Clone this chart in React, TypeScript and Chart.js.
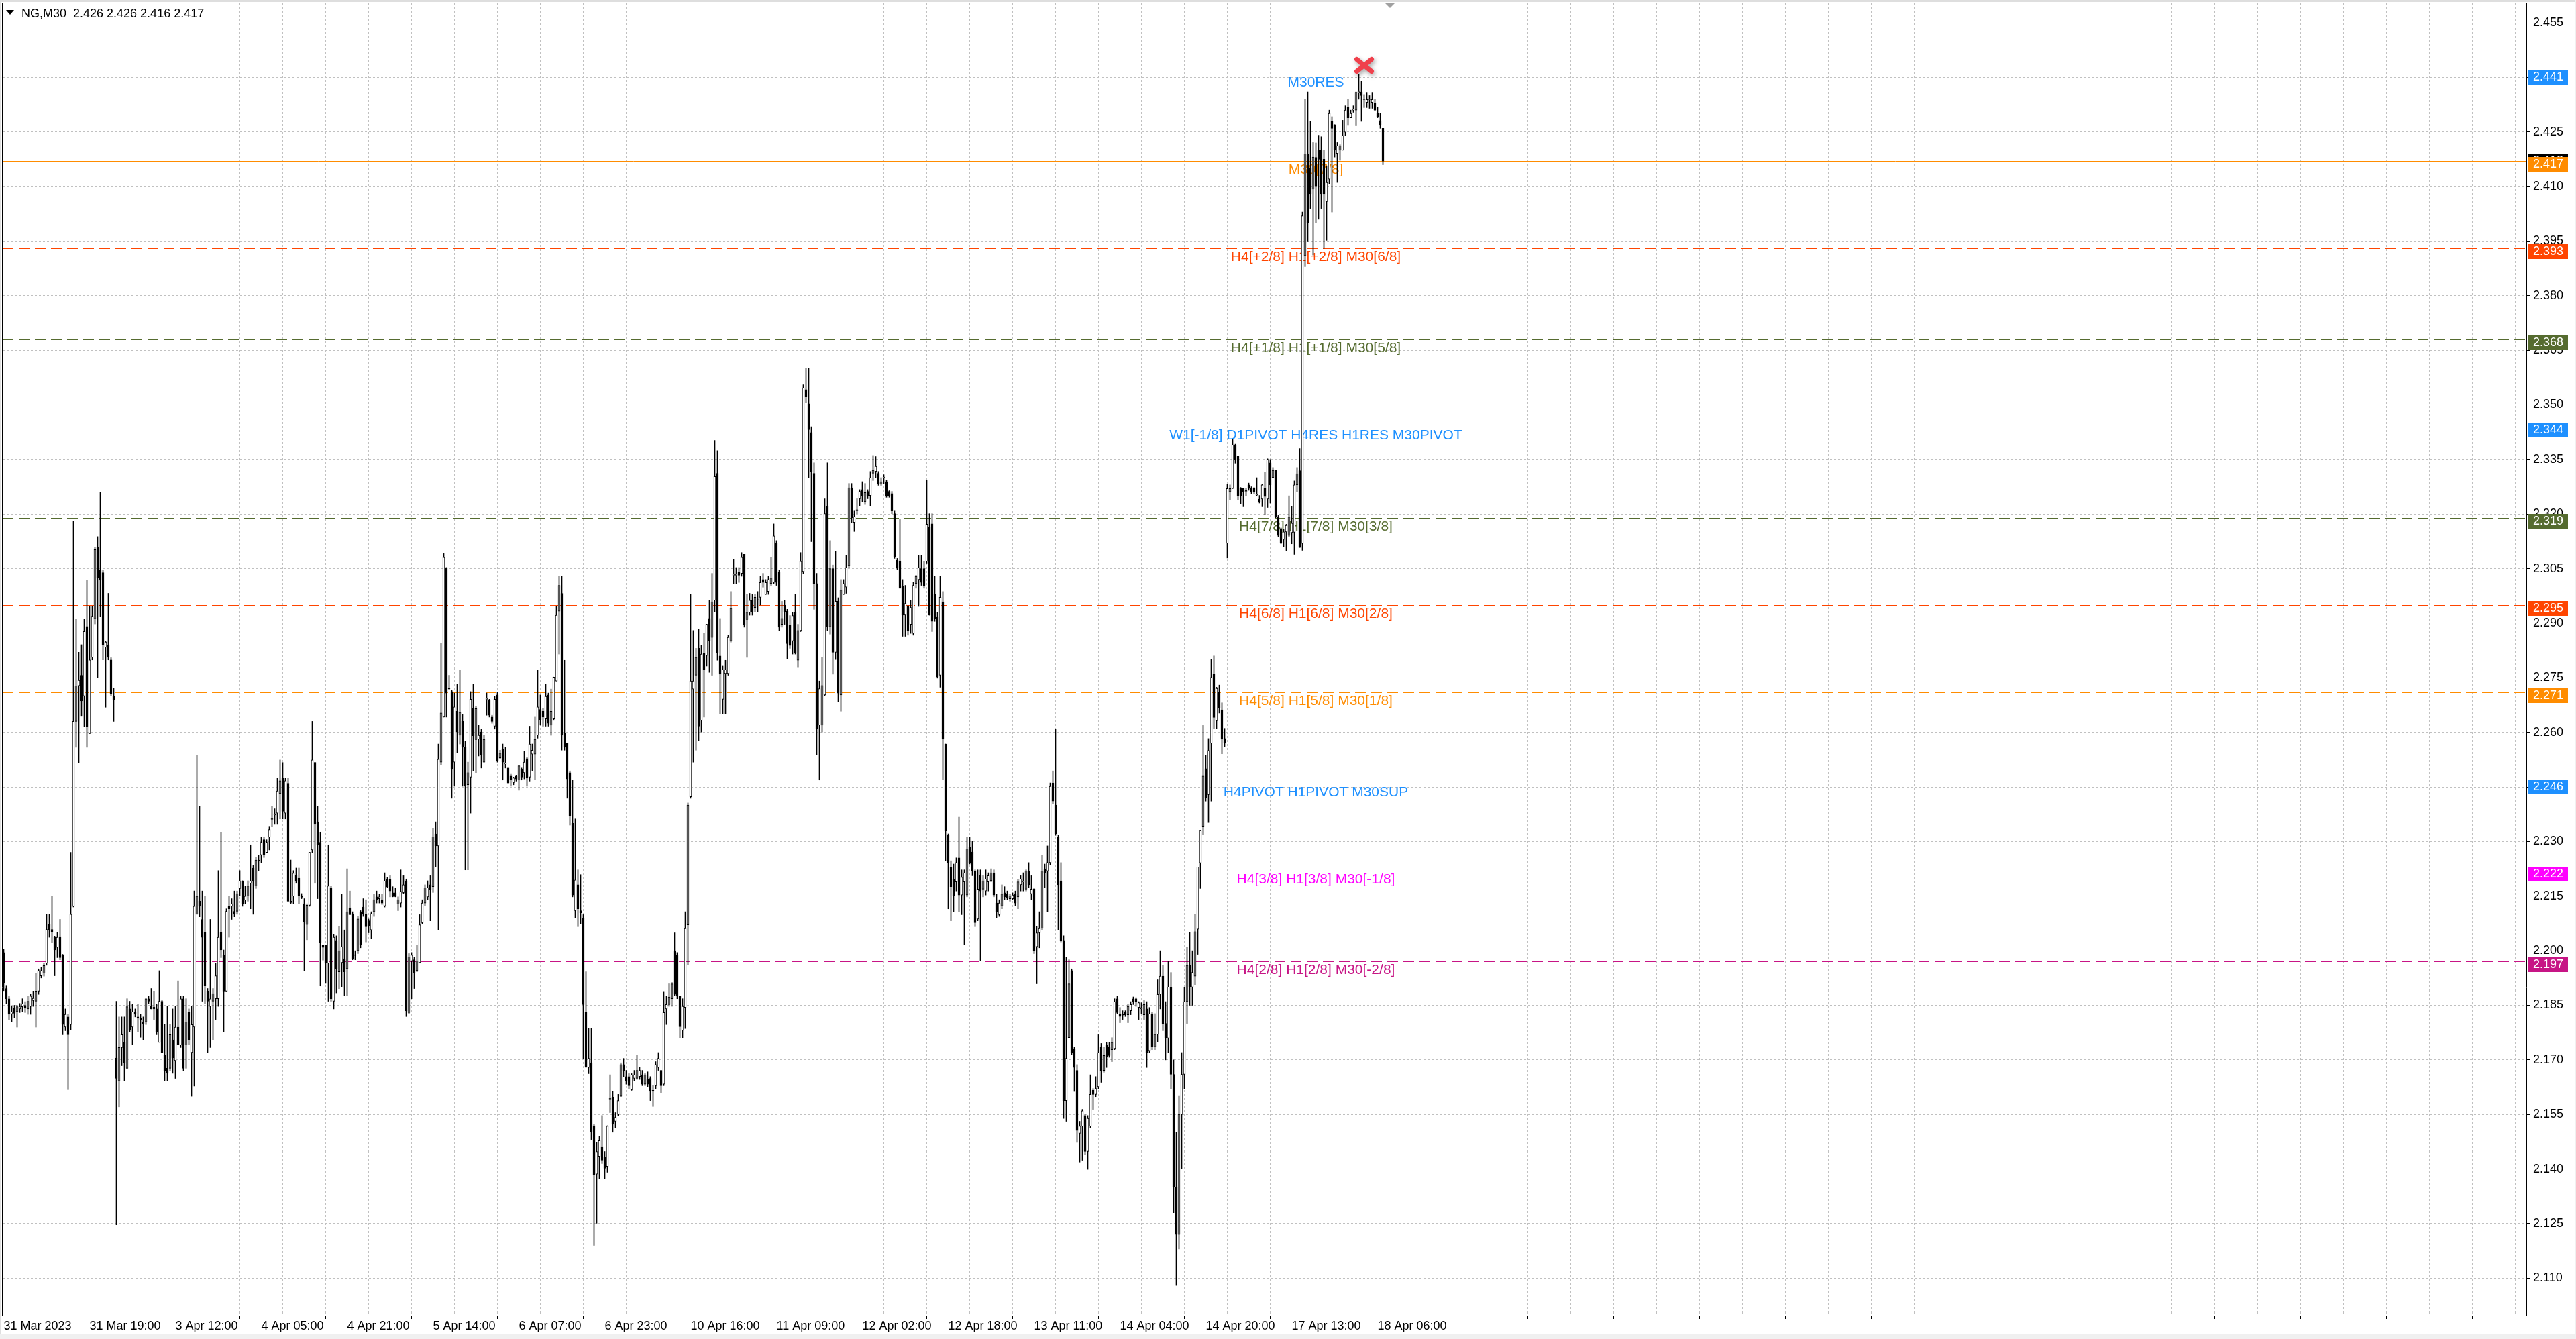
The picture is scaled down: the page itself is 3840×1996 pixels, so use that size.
import React, { useEffect, useRef } from 'react';
import { Chart, registerables } from 'chart.js';

Chart.register(...registerables);

// ---- instrument / timeframe ----
const symbolTitle = 'NG,M30';

// ---- time axis: one label every 32 bars ----
const timeLabels = [
  '31 Mar 2023', '31 Mar 19:00', '3 Apr 12:00', '4 Apr 05:00', '4 Apr 21:00', '5 Apr 14:00',
  '6 Apr 07:00', '6 Apr 23:00', '10 Apr 16:00', '11 Apr 09:00', '12 Apr 02:00', '12 Apr 18:00',
  '13 Apr 11:00', '14 Apr 04:00', '14 Apr 20:00', '17 Apr 13:00', '18 Apr 06:00',
];
const barsPerLabel = 32;
const barsPerGrid = 16;

// ---- price axis ticks ----
const priceTicks = [
  2.110, 2.125, 2.140, 2.155, 2.170, 2.185, 2.200, 2.215, 2.230, 2.245, 2.260, 2.275,
  2.290, 2.305, 2.320, 2.335, 2.350, 2.365, 2.380, 2.395, 2.410, 2.425, 2.440, 2.455,
];

// ---- M30 candles ----
const opens = [
  2.1995, 2.1896, 2.1868, 2.1826, 2.1842, 2.1832, 2.1840, 2.1846, 2.1850, 2.1840,
  2.1847, 2.1863, 2.1861, 2.1889, 2.1931, 2.1938, 2.1966, 2.2072, 2.2058, 2.2037,
  2.2009, 2.2037, 2.1988, 2.1790, 2.1818, 2.1797, 2.2122, 2.2630, 2.2728, 2.2757,
  2.2700, 2.2891, 2.2597, 2.2806, 2.2912, 2.3109, 2.3046, 2.3039, 2.2834, 2.2841,
  2.2799, 2.2700, 2.1705, 2.1642, 2.1734, 2.1748, 2.1677, 2.1840, 2.1790, 2.1832,
  2.1818, 2.1814, 2.1804, 2.1804, 2.1868, 2.1847, 2.1840, 2.1840, 2.1748, 2.1861,
  2.1712, 2.1677, 2.1677, 2.1755, 2.1698, 2.1790, 2.1741, 2.1868, 2.1741, 2.1832,
  2.1720, 2.1790, 2.2100, 2.2136, 2.2086, 2.2051, 2.1889, 2.1847, 2.1861, 2.1868,
  2.1868, 2.2051, 2.1988, 2.1889, 2.2122, 2.2122, 2.2108, 2.2108, 2.2171, 2.2192,
  2.2139, 2.2150, 2.2185, 2.2227, 2.2178, 2.2249, 2.2263, 2.2305, 2.2270, 2.2312,
  2.2361, 2.2373, 2.2378, 2.2432, 2.2474, 2.2378, 2.2460, 2.2136, 2.2150, 2.2206,
  2.2199, 2.2150, 2.2129, 2.2072, 2.2125, 2.2277, 2.2517, 2.2354, 2.2298, 2.2016,
  2.2016, 2.1966, 2.2171, 2.1861, 2.2028, 2.1942, 2.1967, 2.1978, 2.1950, 2.2118,
  2.2099, 2.1987, 2.2000, 2.2107, 2.2120, 2.2099, 2.2082, 2.2057, 2.2107, 2.2148,
  2.2143, 2.2140, 2.2123, 2.2197, 2.2197, 2.2159, 2.2159, 2.2128, 2.2131, 2.2160,
  2.2192, 2.1830, 2.1972, 2.1975, 2.1945, 2.1967, 2.2077, 2.2131, 2.2148, 2.2181,
  2.2176, 2.2321, 2.2288, 2.2518, 2.2642, 2.3053, 2.2721, 2.2712, 2.2518, 2.2658,
  2.2592, 2.2630, 2.2559, 2.2456, 2.2477, 2.2666, 2.2580, 2.2581, 2.2601, 2.2518,
  2.2691, 2.2688, 2.2642, 2.2617, 2.2703, 2.2530, 2.2554, 2.2513, 2.2502, 2.2480,
  2.2462, 2.2479, 2.2469, 2.2498, 2.2489, 2.2528, 2.2477, 2.2540, 2.2540, 2.2592,
  2.2663, 2.2658, 2.2637, 2.2703, 2.2620, 2.2637, 2.2741, 2.2933, 2.2982, 2.2597,
  2.2571, 2.2489, 2.2350, 2.2110, 2.2181, 2.2110, 2.2090, 2.1830, 2.1679, 2.1692,
  2.1519, 2.1386, 2.1435, 2.1460, 2.1432, 2.1407, 2.1592, 2.1597, 2.1531, 2.1550,
  2.1600, 2.1687, 2.1654, 2.1654, 2.1618, 2.1649, 2.1649, 2.1654, 2.1659, 2.1633,
  2.1646, 2.1649, 2.1616, 2.1629, 2.1679, 2.1671, 2.1633, 2.1840, 2.1852, 2.1868,
  2.2000, 2.1988, 2.1876, 2.1781, 2.1844, 2.2071, 2.2423, 2.2719, 2.2757, 2.2831,
  2.2633, 2.2818, 2.2811, 2.2913, 2.2861, 2.2963, 2.3312, 2.2810, 2.2691, 2.2762,
  2.2762, 2.2851, 2.3032, 2.3032, 2.3040, 2.3037, 2.3089, 2.2910, 2.2930, 2.2963,
  2.2943, 2.2963, 2.2971, 2.3020, 2.2979, 2.2987, 2.3009, 2.3012, 2.3119, 2.3040,
  2.2897, 2.2949, 2.2933, 2.2894, 2.2851, 2.2930, 2.2798, 2.2880, 2.3042, 2.3542,
  2.3503, 2.3424, 2.3312, 2.3009, 2.2620, 2.2620, 2.2703, 2.3220, 2.2890, 2.3050,
  2.2820, 2.2960, 2.2703, 2.2979, 2.2999, 2.3058, 2.3272, 2.3177, 2.3210, 2.3242,
  2.3267, 2.3234, 2.3262, 2.3251, 2.3312, 2.3317, 2.3312, 2.3282, 2.3300, 2.3289,
  2.3262, 2.3256, 2.3201, 2.3073, 2.3070, 2.3002, 2.2922, 2.2946, 2.2897, 2.2872,
  2.3009, 2.3020, 2.3050, 2.3050, 2.3070, 2.3163, 2.3173, 2.2979, 2.2918, 2.2757,
  2.2959, 2.2568, 2.2317, 2.2230, 2.2197, 2.2189, 2.2255, 2.2153, 2.2189, 2.2153,
  2.2285, 2.2271, 2.2219, 2.2087, 2.2206, 2.2169, 2.2164, 2.2189, 2.2192, 2.2214,
  2.2131, 2.2099, 2.2123, 2.2159, 2.2156, 2.2143, 2.2143, 2.2156, 2.2148, 2.2181,
  2.2189, 2.2169, 2.2219, 2.2156, 2.2169, 2.2011, 2.2049, 2.2061, 2.2225, 2.2219,
  2.2242, 2.2461, 2.2400, 2.2313, 2.2192, 2.2028, 2.1588, 2.1761, 2.1945, 2.1731,
  2.1671, 2.1498, 2.1518, 2.1547, 2.1448, 2.1518, 2.1616, 2.1605, 2.1626, 2.1736,
  2.1671, 2.1741, 2.1736, 2.1728, 2.1731, 2.1868, 2.1827, 2.1824, 2.1830, 2.1824,
  2.1835, 2.1868, 2.1868, 2.1844, 2.1840, 2.1824, 2.1840, 2.1725, 2.1827, 2.1736,
  2.1770, 2.1880, 2.1930, 2.1800, 2.1760, 2.1900, 2.1660, 2.1350, 2.1220, 2.1550,
  2.1660, 2.1860, 2.1960, 2.1900, 2.1930, 2.2059, 2.2241, 2.2340, 2.2500, 2.2429,
  2.2570, 2.2760, 2.2632, 2.2711, 2.2662, 2.2583, 2.3120, 2.3261, 2.3270, 2.3390,
  2.3360, 2.3270, 2.3270, 2.3260, 2.3280, 2.3270, 2.3270, 2.3252, 2.3241, 2.3241,
  2.3270, 2.3241, 2.3341, 2.3300, 2.3321, 2.3192, 2.3160, 2.3130, 2.3151, 2.3141,
  2.3149, 2.3150, 2.3280, 2.3319, 2.3119, 2.3910, 2.4190, 2.4150, 2.4093, 2.4180,
  2.4200, 2.4200, 2.4175, 2.4059, 2.4120, 2.4280, 2.4270, 2.4191, 2.4200, 2.4200,
  2.4249, 2.4319, 2.4289, 2.4310, 2.4310, 2.4359, 2.4360, 2.4339, 2.4331, 2.4339,
  2.4331, 2.4330, 2.4301, 2.4281, 2.4260,
];

const highs = [
  2.2005, 2.1903, 2.1875, 2.1847, 2.1850, 2.1850, 2.1855, 2.1868, 2.1860, 2.1875,
  2.1880, 2.1889, 2.1938, 2.1950, 2.1955, 2.1965, 2.2100, 2.2100, 2.2150, 2.2040,
  2.2051, 2.2086, 2.1990, 2.1840, 2.1825, 2.2270, 2.3180, 2.2912, 2.2820, 2.2841,
  2.2912, 2.3018, 2.2947, 2.2947, 2.3109, 2.3138, 2.3260, 2.3046, 2.2850, 2.2982,
  2.2805, 2.2721, 2.1861, 2.1818, 2.1818, 2.1818, 2.1868, 2.1861, 2.1854, 2.1840,
  2.1854, 2.1825, 2.1818, 2.1868, 2.1875, 2.1896, 2.1889, 2.1854, 2.1945, 2.1865,
  2.1797, 2.1847, 2.1797, 2.1840, 2.1847, 2.1917, 2.1875, 2.1875, 2.1868, 2.1840,
  2.1847, 2.2164, 2.2538, 2.2397, 2.2164, 2.2150, 2.1896, 2.2086, 2.1896, 2.1966,
  2.2220, 2.2326, 2.2002, 2.2115, 2.2150, 2.2143, 2.2164, 2.2164, 2.2220, 2.2192,
  2.2178, 2.2192, 2.2291, 2.2234, 2.2256, 2.2263, 2.2312, 2.2312, 2.2305, 2.2340,
  2.2397, 2.2390, 2.2474, 2.2524, 2.2517, 2.2474, 2.2474, 2.2249, 2.2220, 2.2227,
  2.2227, 2.2157, 2.2143, 2.2129, 2.2270, 2.2630, 2.2517, 2.2397, 2.2326, 2.2016,
  2.2016, 2.2291, 2.2178, 2.2045, 2.2041, 2.2066, 2.2156, 2.2057, 2.2225, 2.2164,
  2.2107, 2.2000, 2.2094, 2.2110, 2.2143, 2.2140, 2.2087, 2.2107, 2.2156, 2.2164,
  2.2156, 2.2156, 2.2214, 2.2201, 2.2206, 2.2176, 2.2173, 2.2148, 2.2222, 2.2206,
  2.2197, 2.1992, 2.1995, 2.1983, 2.2016, 2.2099, 2.2140, 2.2181, 2.2192, 2.2206,
  2.2337, 2.2354, 2.2568, 2.2844, 2.3091, 2.3053, 2.2757, 2.2716, 2.2708, 2.2732,
  2.2772, 2.2650, 2.2576, 2.2518, 2.2712, 2.2732, 2.2671, 2.2620, 2.2609, 2.2592,
  2.2708, 2.2691, 2.2647, 2.2699, 2.2711, 2.2551, 2.2568, 2.2559, 2.2502, 2.2485,
  2.2477, 2.2482, 2.2510, 2.2502, 2.2548, 2.2531, 2.2617, 2.2568, 2.2642, 2.2772,
  2.2703, 2.2666, 2.2732, 2.2708, 2.2719, 2.2752, 2.2946, 2.3029, 2.3029, 2.2798,
  2.2571, 2.2494, 2.2469, 2.2362, 2.2222, 2.2209, 2.2099, 2.1942, 2.1786, 2.1786,
  2.1522, 2.1473, 2.1490, 2.1547, 2.1448, 2.1519, 2.1659, 2.1613, 2.1555, 2.1605,
  2.1692, 2.1704, 2.1671, 2.1662, 2.1662, 2.1671, 2.1712, 2.1679, 2.1671, 2.1662,
  2.1667, 2.1654, 2.1629, 2.1695, 2.1720, 2.1671, 2.1888, 2.1876, 2.1909, 2.1913,
  2.2049, 2.1995, 2.1876, 2.1868, 2.2107, 2.2406, 2.2979, 2.2880, 2.2831, 2.2884,
  2.2839, 2.2872, 2.2897, 2.2963, 2.3037, 2.3402, 2.3374, 2.2913, 2.2782, 2.2798,
  2.2867, 2.2987, 2.3075, 2.3053, 2.3053, 2.3094, 2.3089, 2.2979, 2.2982, 2.2979,
  2.2979, 2.2987, 2.3029, 2.3037, 2.3020, 2.3029, 2.3081, 2.3173, 2.3127, 2.3045,
  2.2960, 2.2963, 2.2938, 2.2921, 2.2930, 2.2979, 2.2897, 2.3094, 2.3555, 2.3600,
  2.3600, 2.3440, 2.3341, 2.3037, 2.2741, 2.2806, 2.3242, 2.3341, 2.3127, 2.3060,
  2.3098, 2.2970, 2.3020, 2.3020, 2.3086, 2.3284, 2.3284, 2.3210, 2.3242, 2.3267,
  2.3289, 2.3284, 2.3267, 2.3317, 2.3361, 2.3358, 2.3317, 2.3300, 2.3308, 2.3292,
  2.3264, 2.3262, 2.3210, 2.3078, 2.3185, 2.3020, 2.3004, 2.2949, 2.2963, 2.3012,
  2.3032, 2.3086, 2.3086, 2.3070, 2.3292, 2.3201, 2.3201, 2.3029, 2.2930, 2.3029,
  2.2987, 2.2568, 2.2321, 2.2247, 2.2238, 2.2255, 2.2367, 2.2222, 2.2222, 2.2313,
  2.2313, 2.2301, 2.2222, 2.2222, 2.2222, 2.2206, 2.2222, 2.2214, 2.2225, 2.2222,
  2.2156, 2.2140, 2.2181, 2.2176, 2.2164, 2.2156, 2.2159, 2.2164, 2.2197, 2.2206,
  2.2214, 2.2222, 2.2242, 2.2206, 2.2173, 2.2066, 2.2107, 2.2263, 2.2238, 2.2288,
  2.2461, 2.2494, 2.2609, 2.2317, 2.2242, 2.2041, 2.1983, 2.1975, 2.1950, 2.1736,
  2.1687, 2.1531, 2.1564, 2.1550, 2.1547, 2.1659, 2.1621, 2.1654, 2.1769, 2.1745,
  2.1736, 2.1748, 2.1748, 2.1761, 2.1868, 2.1876, 2.1844, 2.1835, 2.1835, 2.1852,
  2.1860, 2.1873, 2.1871, 2.1860, 2.1857, 2.1863, 2.1860, 2.1844, 2.1831, 2.1827,
  2.1920, 2.2000, 2.1960, 2.1860, 2.1970, 2.1940, 2.1700, 2.1500, 2.1600, 2.1720,
  2.1900, 2.2010, 2.2050, 2.2000, 2.2101, 2.2230, 2.2331, 2.2619, 2.2537, 2.2583,
  2.2800, 2.2810, 2.2724, 2.2730, 2.2681, 2.2611, 2.3282, 2.3280, 2.3405, 2.3392,
  2.3360, 2.3273, 2.3270, 2.3270, 2.3285, 2.3275, 2.3273, 2.3300, 2.3251, 2.3282,
  2.3316, 2.3352, 2.3350, 2.3328, 2.3321, 2.3196, 2.3162, 2.3159, 2.3172, 2.3250,
  2.3221, 2.3291, 2.3328, 2.3380, 2.4030, 2.4340, 2.4360, 2.4280, 2.4221, 2.4220,
  2.4241, 2.4237, 2.4200, 2.4157, 2.4310, 2.4292, 2.4270, 2.4221, 2.4215, 2.4282,
  2.4322, 2.4341, 2.4310, 2.4322, 2.4360, 2.4408, 2.4390, 2.4353, 2.4359, 2.4350,
  2.4359, 2.4340, 2.4319, 2.4301, 2.4260,
];

const lows = [
  2.1890, 2.1854, 2.1811, 2.1804, 2.1815, 2.1790, 2.1830, 2.1833, 2.1830, 2.1825,
  2.1825, 2.1847, 2.1790, 2.1880, 2.1925, 2.1930, 2.1960, 2.2037, 2.2023, 2.1931,
  2.1981, 2.1975, 2.1769, 2.1780, 2.1618, 2.1783, 2.2120, 2.2559, 2.2517, 2.2644,
  2.2616, 2.2559, 2.2597, 2.2799, 2.2898, 2.2750, 2.2919, 2.2799, 2.2669, 2.2799,
  2.2700, 2.2630, 2.1247, 2.1571, 2.1684, 2.1642, 2.1677, 2.1776, 2.1741, 2.1818,
  2.1776, 2.1762, 2.1755, 2.1797, 2.1854, 2.1840, 2.1811, 2.1769, 2.1748, 2.1720,
  2.1642, 2.1642, 2.1670, 2.1663, 2.1649, 2.1741, 2.1734, 2.1670, 2.1677, 2.1741,
  2.1600, 2.1628, 2.2100, 2.2093, 2.1861, 2.1854, 2.1720, 2.1734, 2.1755, 2.1811,
  2.1847, 2.1981, 2.1776, 2.1889, 2.2037, 2.2086, 2.2093, 2.2100, 2.2150, 2.2122,
  2.2129, 2.2136, 2.2115, 2.2100, 2.2171, 2.2220, 2.2242, 2.2256, 2.2270, 2.2277,
  2.2340, 2.2347, 2.2347, 2.2362, 2.2362, 2.2362, 2.2136, 2.2129, 2.2129, 2.2185,
  2.2129, 2.2143, 2.1945, 2.2030, 2.2122, 2.2270, 2.2185, 2.2143, 2.1903, 2.1974,
  2.1910, 2.1861, 2.1861, 2.1840, 2.1884, 2.1894, 2.1901, 2.1876, 2.1876, 2.2099,
  2.1975, 2.1975, 2.1992, 2.2008, 2.2094, 2.2024, 2.2049, 2.2033, 2.2094, 2.2131,
  2.2131, 2.2127, 2.2120, 2.2173, 2.2148, 2.2148, 2.2148, 2.2110, 2.2120, 2.2156,
  2.1819, 2.1827, 2.1868, 2.1896, 2.1942, 2.1967, 2.2074, 2.2123, 2.2140, 2.2082,
  2.2160, 2.2230, 2.2057, 2.2510, 2.2642, 2.2642, 2.2716, 2.2419, 2.2452, 2.2543,
  2.2568, 2.2452, 2.2222, 2.2222, 2.2378, 2.2494, 2.2489, 2.2535, 2.2502, 2.2518,
  2.2647, 2.2642, 2.2625, 2.2609, 2.2518, 2.2527, 2.2469, 2.2502, 2.2461, 2.2452,
  2.2456, 2.2466, 2.2441, 2.2469, 2.2472, 2.2452, 2.2466, 2.2494, 2.2469, 2.2584,
  2.2620, 2.2617, 2.2617, 2.2617, 2.2592, 2.2633, 2.2741, 2.2815, 2.2551, 2.2551,
  2.2419, 2.2345, 2.2148, 2.2090, 2.2066, 2.2074, 2.1704, 2.1679, 2.1662, 2.1481,
  2.1190, 2.1251, 2.1374, 2.1415, 2.1374, 2.1391, 2.1555, 2.1501, 2.1514, 2.1547,
  2.1597, 2.1654, 2.1633, 2.1621, 2.1616, 2.1643, 2.1646, 2.1646, 2.1629, 2.1629,
  2.1626, 2.1588, 2.1572, 2.1621, 2.1671, 2.1610, 2.1629, 2.1797, 2.1847, 2.1847,
  2.1876, 2.1868, 2.1761, 2.1761, 2.1786, 2.1962, 2.2419, 2.2518, 2.2551, 2.2576,
  2.2601, 2.2642, 2.2782, 2.2765, 2.2757, 2.2930, 2.2798, 2.2650, 2.2650, 2.2650,
  2.2757, 2.2848, 2.3009, 2.3009, 2.3012, 2.3029, 2.2889, 2.2806, 2.2922, 2.2922,
  2.2930, 2.2930, 2.2950, 2.2999, 2.2979, 2.2979, 2.3004, 2.3009, 2.3004, 2.2880,
  2.2889, 2.2897, 2.2801, 2.2831, 2.2815, 2.2815, 2.2778, 2.2877, 2.3037, 2.3506,
  2.3300, 2.3124, 2.2938, 2.2538, 2.2469, 2.2601, 2.2700, 2.2880, 2.2870, 2.2760,
  2.2800, 2.2683, 2.2658, 2.2979, 2.2982, 2.3053, 2.3177, 2.3152, 2.3201, 2.3223,
  2.3234, 2.3226, 2.3242, 2.3223, 2.3292, 2.3300, 2.3279, 2.3279, 2.3284, 2.3246,
  2.3246, 2.3201, 2.3078, 2.3048, 2.2996, 2.2864, 2.2864, 2.2867, 2.2872, 2.2867,
  2.2996, 2.2946, 2.3004, 2.2996, 2.3065, 2.2922, 2.2877, 2.2905, 2.2749, 2.2724,
  2.2469, 2.2247, 2.2115, 2.2082, 2.2107, 2.2164, 2.2107, 2.2099, 2.2016, 2.2148,
  2.2238, 2.2206, 2.2066, 2.2082, 2.1972, 2.2148, 2.2153, 2.2164, 2.2189, 2.2148,
  2.2090, 2.2094, 2.2115, 2.2140, 2.2140, 2.2136, 2.2140, 2.2123, 2.2115, 2.2164,
  2.2164, 2.2164, 2.2173, 2.2140, 2.1992, 2.1909, 2.2008, 2.2057, 2.2173, 2.2107,
  2.2235, 2.2403, 2.2317, 2.2057, 2.2024, 2.1539, 2.1531, 2.1761, 2.1715, 2.1613,
  2.1473, 2.1419, 2.1424, 2.1440, 2.1399, 2.1514, 2.1564, 2.1597, 2.1621, 2.1638,
  2.1666, 2.1679, 2.1707, 2.1695, 2.1728, 2.1827, 2.1802, 2.1811, 2.1819, 2.1802,
  2.1824, 2.1852, 2.1847, 2.1811, 2.1827, 2.1811, 2.1679, 2.1720, 2.1728, 2.1728,
  2.1750, 2.1840, 2.1780, 2.1700, 2.1720, 2.1620, 2.1280, 2.1080, 2.1180, 2.1400,
  2.1620, 2.1800, 2.1850, 2.1850, 2.1905, 2.1990, 2.2171, 2.2319, 2.2411, 2.2352,
  2.2411, 2.2610, 2.2610, 2.2653, 2.2541, 2.2561, 2.3079, 2.3239, 2.3270, 2.3340,
  2.3239, 2.3227, 2.3220, 2.3250, 2.3265, 2.3255, 2.3255, 2.3249, 2.3230, 2.3220,
  2.3199, 2.3218, 2.3230, 2.3299, 2.3190, 2.3138, 2.3118, 2.3110, 2.3098, 2.3138,
  2.3118, 2.3089, 2.3260, 2.3108, 2.3100, 2.3880, 2.3950, 2.4040, 2.3912, 2.4000,
  2.4010, 2.4040, 2.3930, 2.3952, 2.4108, 2.4030, 2.4181, 2.4111, 2.4172, 2.4200,
  2.4240, 2.4268, 2.4289, 2.4304, 2.4267, 2.4340, 2.4279, 2.4317, 2.4317, 2.4315,
  2.4315, 2.4309, 2.4289, 2.4260, 2.4160,
];

const closes = [
  2.1910, 2.1868, 2.1825, 2.1832, 2.1828, 2.1846, 2.1846, 2.1854, 2.1842, 2.1861,
  2.1875, 2.1869, 2.1889, 2.1945, 2.1945, 2.1959, 2.2058, 2.2058, 2.2051, 2.2002,
  2.2037, 2.1981, 2.1797, 2.1825, 2.1769, 2.2100, 2.2630, 2.2728, 2.2743, 2.2686,
  2.2877, 2.2616, 2.2799, 2.2919, 2.3102, 2.3025, 2.3018, 2.2841, 2.2848, 2.2806,
  2.2707, 2.2689, 2.1649, 2.1734, 2.1769, 2.1691, 2.1846, 2.1783, 2.1832, 2.1825,
  2.1814, 2.1811, 2.1800, 2.1868, 2.1861, 2.1840, 2.1845, 2.1776, 2.1861, 2.1720,
  2.1670, 2.1663, 2.1769, 2.1705, 2.1790, 2.1741, 2.1868, 2.1677, 2.1804, 2.1755,
  2.1797, 2.2122, 2.2150, 2.2122, 2.2037, 2.1903, 2.1861, 2.1868, 2.1882, 2.1931,
  2.2037, 2.2002, 2.1889, 2.2108, 2.2115, 2.2129, 2.2100, 2.2157, 2.2192, 2.2129,
  2.2150, 2.2178, 2.2192, 2.2192, 2.2249, 2.2246, 2.2298, 2.2263, 2.2298, 2.2333,
  2.2362, 2.2376, 2.2439, 2.2467, 2.2383, 2.2467, 2.2136, 2.2132, 2.2213, 2.2192,
  2.2150, 2.2147, 2.2079, 2.2125, 2.2270, 2.2524, 2.2347, 2.2291, 2.2023, 2.2009,
  2.1966, 2.2178, 2.1868, 2.2037, 2.1950, 2.2000, 2.2011, 2.1942, 2.2107, 2.2099,
  2.1978, 2.1988, 2.2087, 2.2016, 2.2102, 2.2066, 2.2069, 2.2102, 2.2140, 2.2140,
  2.2148, 2.2131, 2.2192, 2.2176, 2.2164, 2.2149, 2.2149, 2.2140, 2.2163, 2.2181,
  2.1835, 2.1983, 2.1988, 2.1939, 2.1972, 2.2071, 2.2131, 2.2173, 2.2173, 2.2168,
  2.2313, 2.2288, 2.2526, 2.2653, 2.3081, 2.2708, 2.2720, 2.2498, 2.2670, 2.2601,
  2.2655, 2.2559, 2.2452, 2.2489, 2.2691, 2.2591, 2.2665, 2.2592, 2.2538, 2.2581,
  2.2692, 2.2647, 2.2630, 2.2691, 2.2522, 2.2543, 2.2518, 2.2513, 2.2461, 2.2469,
  2.2475, 2.2472, 2.2508, 2.2477, 2.2518, 2.2474, 2.2568, 2.2551, 2.2581, 2.2670,
  2.2633, 2.2642, 2.2699, 2.2625, 2.2658, 2.2752, 2.2922, 2.3004, 2.2592, 2.2559,
  2.2472, 2.2370, 2.2153, 2.2194, 2.2115, 2.2104, 2.1852, 2.1682, 2.1704, 2.1501,
  2.1383, 2.1448, 2.1478, 2.1424, 2.1402, 2.1518, 2.1593, 2.1523, 2.1542, 2.1588,
  2.1687, 2.1671, 2.1643, 2.1629, 2.1659, 2.1659, 2.1671, 2.1671, 2.1633, 2.1659,
  2.1633, 2.1613, 2.1613, 2.1687, 2.1704, 2.1629, 2.1830, 2.1852, 2.1873, 2.1909,
  2.1880, 2.1876, 2.1791, 2.1847, 2.2061, 2.2400, 2.2741, 2.2741, 2.2806, 2.2617,
  2.2815, 2.2773, 2.2897, 2.2851, 2.2959, 2.3303, 2.2819, 2.2760, 2.2772, 2.2772,
  2.2861, 2.2941, 2.3032, 2.3033, 2.3032, 2.3081, 2.2897, 2.2930, 2.2963, 2.2930,
  2.2971, 2.2964, 2.3012, 2.3012, 2.3012, 2.3020, 2.3024, 2.3140, 2.3012, 2.2889,
  2.2913, 2.2930, 2.2844, 2.2839, 2.2921, 2.2818, 2.2880, 2.3070, 2.3547, 2.3522,
  2.3432, 2.3317, 2.3009, 2.2609, 2.2720, 2.2729, 2.3201, 2.2890, 2.3050, 2.2820,
  2.2960, 2.2708, 2.2991, 2.3009, 2.3053, 2.3272, 2.3190, 2.3193, 2.3211, 2.3262,
  2.3251, 2.3259, 2.3251, 2.3300, 2.3320, 2.3331, 2.3284, 2.3289, 2.3301, 2.3251,
  2.3251, 2.3210, 2.3081, 2.3053, 2.2996, 2.2922, 2.2954, 2.2880, 2.2943, 2.3004,
  2.3029, 2.3053, 2.3012, 2.3004, 2.3172, 2.2922, 2.2905, 2.2913, 2.2752, 2.2971,
  2.2581, 2.2329, 2.2242, 2.2176, 2.2151, 2.2242, 2.2153, 2.2202, 2.2214, 2.2280,
  2.2242, 2.2219, 2.2077, 2.2169, 2.2164, 2.2192, 2.2197, 2.2206, 2.2214, 2.2153,
  2.2107, 2.2131, 2.2156, 2.2148, 2.2145, 2.2151, 2.2153, 2.2131, 2.2189, 2.2197,
  2.2190, 2.2219, 2.2181, 2.2169, 2.2000, 2.2049, 2.2061, 2.2219, 2.2214, 2.2242,
  2.2452, 2.2411, 2.2321, 2.2181, 2.2028, 2.1588, 2.1704, 2.1909, 2.1720, 2.1679,
  2.1506, 2.1518, 2.1560, 2.1448, 2.1539, 2.1605, 2.1605, 2.1621, 2.1720, 2.1671,
  2.1712, 2.1708, 2.1712, 2.1748, 2.1860, 2.1830, 2.1819, 2.1823, 2.1824, 2.1847,
  2.1852, 2.1860, 2.1860, 2.1857, 2.1844, 2.1852, 2.1720, 2.1827, 2.1736, 2.1770,
  2.1880, 2.1930, 2.1800, 2.1760, 2.1900, 2.1660, 2.1350, 2.1220, 2.1550, 2.1660,
  2.1860, 2.1960, 2.1900, 2.1940, 2.2052, 2.2230, 2.2331, 2.2480, 2.2420, 2.2550,
  2.2751, 2.2641, 2.2721, 2.2668, 2.2581, 2.2570, 2.3270, 2.3270, 2.3390, 2.3350,
  2.3250, 2.3250, 2.3260, 2.3265, 2.3270, 2.3260, 2.3260, 2.3252, 2.3232, 2.3280,
  2.3248, 2.3350, 2.3280, 2.3320, 2.3192, 2.3141, 2.3120, 2.3151, 2.3169, 2.3192,
  2.3175, 2.3280, 2.3311, 2.3108, 2.4020, 2.4190, 2.4000, 2.4080, 2.4181, 2.4100,
  2.4175, 2.4080, 2.4080, 2.4111, 2.4301, 2.4260, 2.4200, 2.4212, 2.4212, 2.4240,
  2.4310, 2.4289, 2.4301, 2.4310, 2.4359, 2.4359, 2.4350, 2.4339, 2.4339, 2.4339,
  2.4339, 2.4310, 2.4290, 2.4268, 2.4170,
];

// ---- Murrey / pivot levels drawn across the chart ----
const levelPrices = [2.441, 2.417, 2.393, 2.368, 2.344, 2.319, 2.295, 2.271, 2.246, 2.222, 2.197];
const levelNames = [
  'M30RES',
  'M30[7/8]',
  'H4[+2/8] H1[+2/8] M30[6/8]',
  'H4[+1/8] H1[+1/8] M30[5/8]',
  'W1[-1/8] D1PIVOT H4RES H1RES M30PIVOT',
  'H4[7/8] H1[7/8] M30[3/8]',
  'H4[6/8] H1[6/8] M30[2/8]',
  'H4[5/8] H1[5/8] M30[1/8]',
  'H4PIVOT H1PIVOT M30SUP',
  'H4[3/8] H1[3/8] M30[-1/8]',
  'H4[2/8] H1[2/8] M30[-2/8]',
];
const levelColors = ['#1e90ff', '#ff8c00', '#ff4500', '#556b2f', '#1e90ff', '#556b2f', '#ff4500', '#ff8c00', '#1e90ff', '#ff00ff', '#c71585'];
const levelStyles = ['dashdot', 'solid', 'dash', 'dash', 'solid', 'dash', 'dash', 'dash', 'dash', 'dash', 'dash'];
const askPrice = 2.418;

// bar used to centre the level captions, and the marker drawn near the top
const levelLabelBar = 489;
const markerBar = 507;
const markerPrice = 2.4433;
const shiftMarkBar = 516.6;

// ---- geometry of the plot ----
const X_MIN = -0.375;
const X_MAX = 940.125;
const Y_MAX = 2.460347;
const Y_MIN = 2.099727;

const UI_FONT = '"Liberation Sans", Arial, sans-serif';
const CAPTION_FONT = '"Liberation Sans", Arial, sans-serif';

function dashFor(style: string): number[] {
  if (style === 'dash') return [16, 8];
  if (style === 'dashdot') return [14, 5, 3, 5];
  return [];
}

const gridBars = Array.from({ length: Math.floor(X_MAX / barsPerGrid) + 1 }, (_, k) => k * barsPerGrid);

const terminalPlugin = {
  id: 'terminalOverlay',
  beforeDatasetsDraw(chart: any) {
    const { ctx, chartArea, scales } = chart;
    const xs = scales.x;
    const ys = scales.y;
    ctx.save();
    ctx.beginPath();
    ctx.rect(chartArea.left, chartArea.top, chartArea.right - chartArea.left, chartArea.bottom - chartArea.top);
    ctx.clip();
    ctx.lineWidth = 1;
    levelPrices.forEach((p, k) => {
      const y = Math.round(ys.getPixelForValue(p)) + 0.5;
      ctx.strokeStyle = levelColors[k];
      ctx.setLineDash(dashFor(levelStyles[k]));
      ctx.beginPath();
      ctx.moveTo(chartArea.left, y);
      ctx.lineTo(chartArea.right, y);
      ctx.stroke();
    });
    ctx.setLineDash([]);
    ctx.font = `21px ${CAPTION_FONT}`;
    ctx.textAlign = 'center';
    ctx.textBaseline = 'alphabetic';
    const lx = xs.getPixelForValue(levelLabelBar);
    levelPrices.forEach((p, k) => {
      const y = ys.getPixelForValue(p);
      ctx.fillStyle = levelColors[k];
      ctx.fillText(levelNames[k], lx, y + 19);
    });
    ctx.restore();
  },
  afterDraw(chart: any) {
    const { ctx, chartArea, scales, width, height } = chart;
    const xs = scales.x;
    const ys = scales.y;
    ctx.save();

    // window edges
    ctx.fillStyle = '#dedede';
    ctx.fillRect(0, 0, width, 3);
    ctx.fillRect(0, 0, 2, height);
    ctx.fillStyle = '#f0f0f0';
    ctx.fillRect(0, height - 7, width, 7);
    ctx.fillRect(width - 2, 0, 2, height);

    // chart frame
    ctx.strokeStyle = '#000';
    ctx.lineWidth = 1;
    ctx.beginPath();
    ctx.moveTo(chartArea.left - 0.5, chartArea.top - 1);
    ctx.lineTo(chartArea.left - 0.5, chartArea.bottom + 1);
    ctx.moveTo(chartArea.left - 1, chartArea.top - 0.5);
    ctx.lineTo(chartArea.right + 1, chartArea.top - 0.5);
    ctx.moveTo(chartArea.right + 0.5, chartArea.top - 1);
    ctx.lineTo(chartArea.right + 0.5, chartArea.bottom + 1);
    ctx.moveTo(chartArea.left - 1, chartArea.bottom + 0.5);
    ctx.lineTo(chartArea.right + 1, chartArea.bottom + 0.5);
    ctx.stroke();

    // price boxes on the right scale
    const bx = chartArea.right + 2;
    const bw = 60;
    ctx.font = `18px ${UI_FONT}`;
    ctx.textAlign = 'left';
    ctx.textBaseline = 'middle';
    const drawBox = (price: number, color: string) => {
      const y = Math.round(ys.getPixelForValue(price));
      ctx.fillStyle = color;
      ctx.fillRect(bx, y - 6, bw, 22);
      ctx.fillStyle = '#fff';
      ctx.fillText(price.toFixed(3), chartArea.right + 10, y + 5.5);
    };
    drawBox(askPrice, '#000');
    levelPrices.forEach((p, k) => drawBox(p, levelColors[k]));

    // header: symbol, timeframe and OHLC of the last bar
    const last = closes.length - 1;
    ctx.fillStyle = '#000';
    ctx.beginPath();
    ctx.moveTo(9, 15);
    ctx.lineTo(21, 15);
    ctx.lineTo(15, 22);
    ctx.closePath();
    ctx.fill();
    ctx.font = `18px ${UI_FONT}`;
    ctx.textBaseline = 'alphabetic';
    ctx.fillText(
      `${symbolTitle}  ${opens[last].toFixed(3)} ${highs[last].toFixed(3)} ${lows[last].toFixed(3)} ${closes[last].toFixed(3)}`,
      32,
      26
    );

    // chart shift mark
    const sx = Math.round(xs.getPixelForValue(shiftMarkBar));
    ctx.fillStyle = '#a0a0a0';
    ctx.beginPath();
    ctx.moveTo(sx - 7, chartArea.top);
    ctx.lineTo(sx + 7, chartArea.top);
    ctx.lineTo(sx, chartArea.top + 7);
    ctx.closePath();
    ctx.fill();

    // red cross marker
    const mx = xs.getPixelForValue(markerBar);
    const my = ys.getPixelForValue(markerPrice);
    ctx.shadowColor = 'rgba(0,0,0,0.35)';
    ctx.shadowBlur = 6;
    ctx.shadowOffsetX = 2;
    ctx.shadowOffsetY = 3;
    ctx.strokeStyle = '#f0404c';
    ctx.lineWidth = 7;
    ctx.lineCap = 'round';
    ctx.beginPath();
    ctx.moveTo(mx - 11, my - 9);
    ctx.lineTo(mx + 11, my + 9);
    ctx.moveTo(mx + 11, my - 9);
    ctx.lineTo(mx - 11, my + 9);
    ctx.stroke();

    ctx.restore();
  },
};

export default function App() {
  const canvasRef = useRef<HTMLCanvasElement | null>(null);

  useEffect(() => {
    const canvas = canvasRef.current;
    if (!canvas) return;

    const bodyData = opens.map((o, i) => ({ x: i, y: [o, closes[i]] }));
    const wickData = lows.map((l, i) => ({
      x: i,
      y: [Math.min(l, opens[i], closes[i]), Math.max(highs[i], opens[i], closes[i])],
    }));

    const chart = new Chart(canvas, {
      type: 'bar',
      data: {
        datasets: [
          {
            label: 'wick',
            data: wickData as any,
            backgroundColor: '#000',
            borderWidth: 0,
            barThickness: 1,
            grouped: false,
            order: 2,
          } as any,
          {
            label: 'body',
            data: bodyData as any,
            backgroundColor: (c: any) => (closes[c.dataIndex] >= opens[c.dataIndex] ? '#ffffff' : '#000000'),
            borderColor: '#000',
            borderWidth: 1,
            borderSkipped: false,
            barThickness: 3,
            minBarLength: 1,
            grouped: false,
            order: 1,
          } as any,
        ],
      },
      options: {
        animation: false,
        responsive: true,
        maintainAspectRatio: false,
        devicePixelRatio: 1,
        events: [],
        layout: { padding: { left: 4, top: 5, right: 0, bottom: 0 } },
        plugins: { legend: { display: false }, tooltip: { enabled: false } },
        scales: {
          x: {
            type: 'linear',
            min: X_MIN,
            max: X_MAX,
            offset: false,
            bounds: 'data',
            afterBuildTicks: (s: any) => {
              s.ticks = gridBars.map((v) => ({ value: v }));
            },
            afterFit: (s: any) => {
              s.height = 35;
              s.paddingLeft = 0;
              s.paddingRight = 0;
              s.paddingTop = 0;
              s.paddingBottom = 0;
            },
            grid: {
              color: '#c0c0c0',
              lineWidth: 1,
              drawTicks: true,
              tickLength: 5,
              tickBorderDash: [],
              tickColor: (c: any) => (c.tick && c.tick.value % barsPerLabel === 0 ? '#000' : 'rgba(0,0,0,0)'),
            },
            border: { display: false, dash: [3, 3] },
            ticks: {
              autoSkip: false,
              maxRotation: 0,
              minRotation: 0,
              align: 'start',
              padding: 0,
              color: '#000',
              font: { family: UI_FONT, size: 18 },
              callback: (v: any) => {
                const n = Number(v);
                return n % barsPerLabel === 0 ? timeLabels[n / barsPerLabel] ?? '' : '';
              },
            },
          } as any,
          y: {
            type: 'linear',
            position: 'right',
            min: Y_MIN,
            max: Y_MAX,
            bounds: 'data',
            beginAtZero: false,
            afterBuildTicks: (s: any) => {
              s.ticks = priceTicks.map((v) => ({ value: v }));
            },
            afterFit: (s: any) => {
              s.width = 74;
              s.paddingLeft = 0;
              s.paddingRight = 0;
              s.paddingTop = 0;
              s.paddingBottom = 0;
            },
            grid: {
              color: '#c0c0c0',
              lineWidth: 1,
              drawTicks: true,
              tickLength: 5,
              tickBorderDash: [],
              tickColor: '#000',
            },
            border: { display: false, dash: [3, 3] },
            ticks: {
              padding: 5,
              color: '#000',
              font: { family: UI_FONT, size: 18 },
              callback: (v: any) => Number(v).toFixed(3),
            },
          } as any,
        },
      },
      plugins: [terminalPlugin],
    });

    return () => chart.destroy();
  }, []);

  return (
    <div style={{ position: 'fixed', left: 0, top: 0, width: '100vw', height: '100vh', background: '#ffffff' }}>
      <canvas ref={canvasRef} style={{ display: 'block' }} />
    </div>
  );
}
